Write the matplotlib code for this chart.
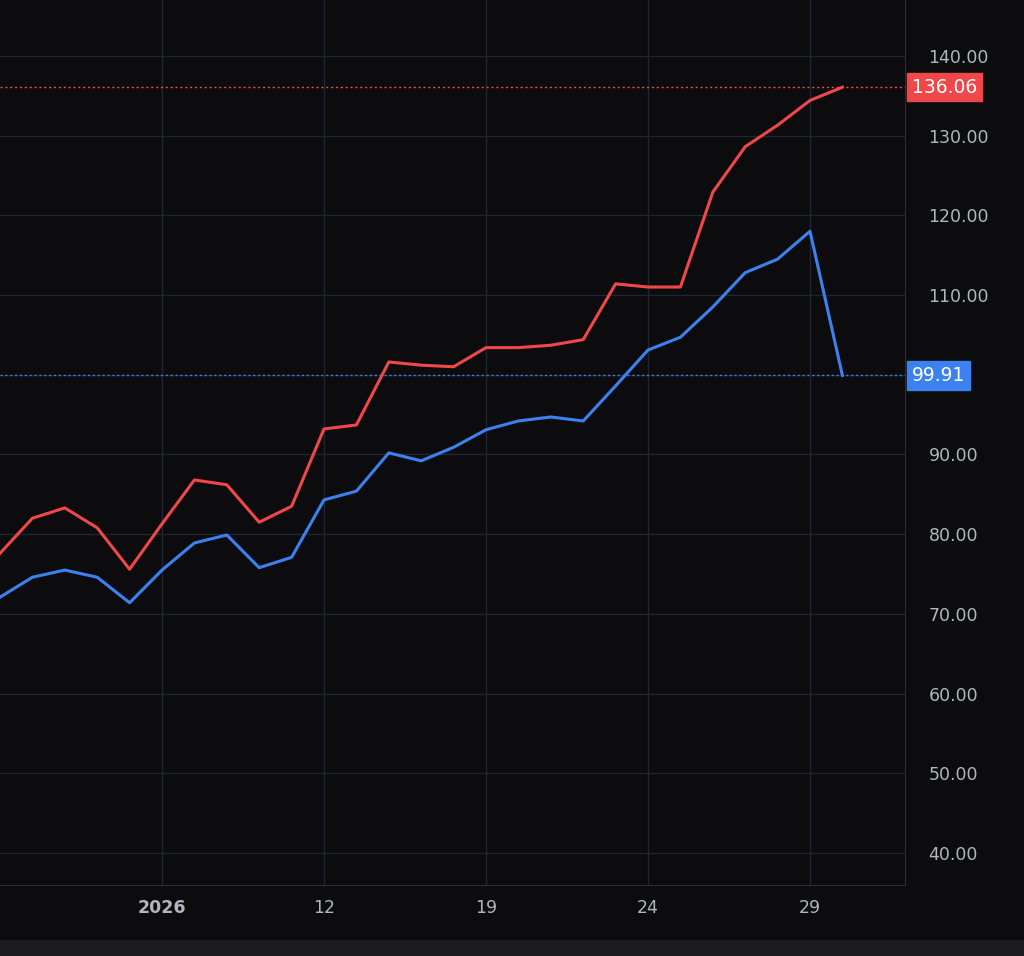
import matplotlib
matplotlib.use("Agg")
import matplotlib.pyplot as plt

red_vals = [77.6, 82.0, 83.3, 80.8, 75.6, 81.3, 86.8, 86.2, 81.5, 83.5, 93.2, 93.7, 101.6, 101.2,
            101.0, 103.4, 103.4, 103.7, 104.4, 111.4, 111.0, 111.0, 122.9, 128.6, 131.3, 134.4, 136.06]
blue_vals = [72.1, 74.6, 75.5, 74.6, 71.4, 75.5, 78.9, 79.9, 75.8, 77.1, 84.3, 85.4, 90.2, 89.2,
             90.9, 93.1, 94.2, 94.7, 94.2, 98.6, 103.1, 104.7, 108.5, 112.8, 114.5, 118.0, 99.91]
x_tick_pos = [5, 10, 15, 20, 25]
x_tick_labels = ["2026", "12", "19", "24", "29"]
y_ticks = [40, 50, 60, 70, 80, 90, 100, 110, 120, 130, 140]

BG = "#0c0c0e"
GRID = "#1f2532"
TXT = "#b2b5be"
RED = "#f0474a"
BLUE = "#3b82f0"

fig = plt.figure(figsize=(10.24, 9.56), dpi=100, facecolor=BG)
ax = fig.add_axes([0, 1 - 885/956, 905/1024, 885/956], facecolor=BG)
xs = list(range(len(red_vals)))
ax.plot(xs, red_vals, color=RED, lw=2.2)
ax.plot(xs, blue_vals, color=BLUE, lw=2.2)
ax.set_xlim(0, 905/32.4)
ax.set_ylim(36.0, 147.0)
ax.axhline(red_vals[-1], color=RED, lw=1, ls=(0, (1.5, 2)))
ax.axhline(blue_vals[-1], color=BLUE, lw=1, ls=(0, (1.5, 2)))
ax.set_yticks(y_ticks)
# the 100.00 label is covered by the last-price badge in the reference
ax.set_yticklabels(["" if v == 100 else f"{v:.2f}" for v in y_ticks])
ax.set_xticks(x_tick_pos)
ax.set_xticklabels(x_tick_labels)
for lab in ax.get_xticklabels():
    if lab.get_text() == "2026":
        lab.set_fontweight("bold")
ax.yaxis.tick_right()
ax.tick_params(axis="y", colors=TXT, labelsize=12.5, length=0, pad=17)
ax.tick_params(axis="x", colors=TXT, labelsize=12.5, length=0, pad=10)
ax.grid(True, color=GRID, lw=1)
for s in ["top", "left"]:
    ax.spines[s].set_visible(False)
ax.spines["right"].set_color("#2a2e39")
ax.spines["bottom"].set_color("#2a2e39")

for val, col in [(red_vals[-1], RED), (blue_vals[-1], BLUE)]:
    ax.annotate(f"{val:.2f}", xy=(1, val), xycoords=("axes fraction", "data"),
                xytext=(5, 0), textcoords="offset points", ha="left", va="center",
                color="white", fontsize=13.5,
                bbox=dict(boxstyle="square,pad=0.25", fc=col, ec=col))

fig.patches.append(plt.Rectangle((0, 0), 1, 16/956, transform=fig.transFigure, color="#1c1c1f"))
fig.savefig("out.png", dpi=100, facecolor=BG)
